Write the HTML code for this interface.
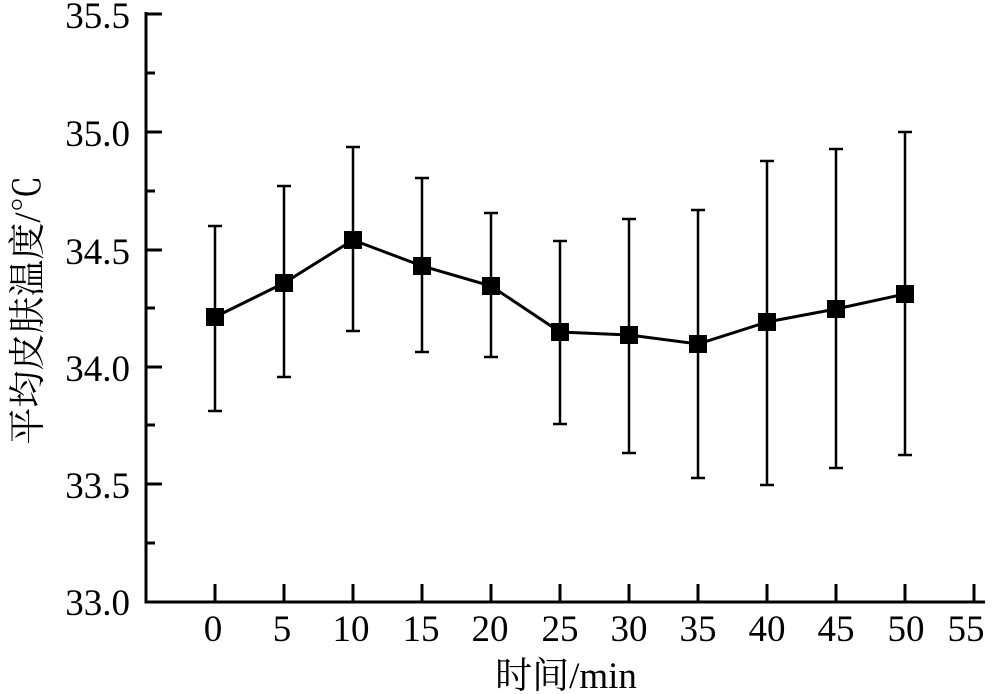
<!DOCTYPE html><html><head><style>body{margin:0;background:#fff}svg{display:block}text{font-family:"Liberation Serif","Noto Serif CJK SC",serif;fill:#000}</style></head><body>
<svg width="1000" height="694" xmlns="http://www.w3.org/2000/svg">
<g stroke="#000" stroke-width="3" fill="none">
<path d="M146,12 V602 H985"/>
<path d="M146,14h16 M146,132h16 M146,250h16 M146,367h16 M146,484h16 M146,73h9 M146,191h9 M146,308h9 M146,425h9 M146,543h9"/>
<path d="M215,602v-18 M284,602v-18 M353,602v-18 M422,602v-18 M491,602v-18 M560,602v-18 M629,602v-18 M698,602v-18 M767,602v-18 M836,602v-18 M905,602v-18 M974,602v-18"/>
</g>
<g stroke="#000" stroke-width="2.5" fill="none">
<path d="M215,226V411M208,226h14M208,411h14"/>
<path d="M284,186V377M277,186h14M277,377h14"/>
<path d="M353,147V331M346,147h14M346,331h14"/>
<path d="M422,178V352M415,178h14M415,352h14"/>
<path d="M491,213V357M484,213h14M484,357h14"/>
<path d="M560,241V424M553,241h14M553,424h14"/>
<path d="M629,219V453M622,219h14M622,453h14"/>
<path d="M698,210V478M691,210h14M691,478h14"/>
<path d="M767,161V485M760,161h14M760,485h14"/>
<path d="M836,149V468M829,149h14M829,468h14"/>
<path d="M905,132V455M898,132h14M898,455h14"/>
<polyline stroke-width="3" points="215,317 284,283 353,240 422,266 491,286 560,332 629,335 698,344 767,322 836,309 905,294"/>
</g>
<g fill="#000">
<rect x="206" y="308" width="18" height="18"/><rect x="275" y="274" width="18" height="18"/><rect x="344" y="231" width="18" height="18"/><rect x="413" y="257" width="18" height="18"/><rect x="482" y="277" width="18" height="18"/><rect x="551" y="323" width="18" height="18"/><rect x="620" y="326" width="18" height="18"/><rect x="689" y="335" width="18" height="18"/><rect x="758" y="313" width="18" height="18"/><rect x="827" y="300" width="18" height="18"/><rect x="896" y="285" width="18" height="18"/>
</g>
<g font-size="37" text-anchor="end">
<text x="130" y="28">35.5</text><text x="130" y="146">35.0</text><text x="130" y="264">34.5</text><text x="130" y="381">34.0</text><text x="130" y="498">33.5</text><text x="130" y="615">33.0</text>
</g>
<g font-size="37" text-anchor="middle">
<text x="213" y="641">0</text><text x="282" y="641">5</text><text x="351" y="641">10</text><text x="421" y="641">15</text><text x="490" y="641">20</text><text x="560" y="641">25</text><text x="629" y="641">30</text><text x="698" y="641">35</text><text x="767" y="641">40</text><text x="836" y="641">45</text><text x="906" y="641">50</text><text x="966" y="641">55</text>
<text x="566" y="688" font-size="37">时间/min</text>
<text transform="translate(40,310) rotate(-90)" font-size="37">平均皮肤温度/℃</text>
</g>
</svg></body></html>
